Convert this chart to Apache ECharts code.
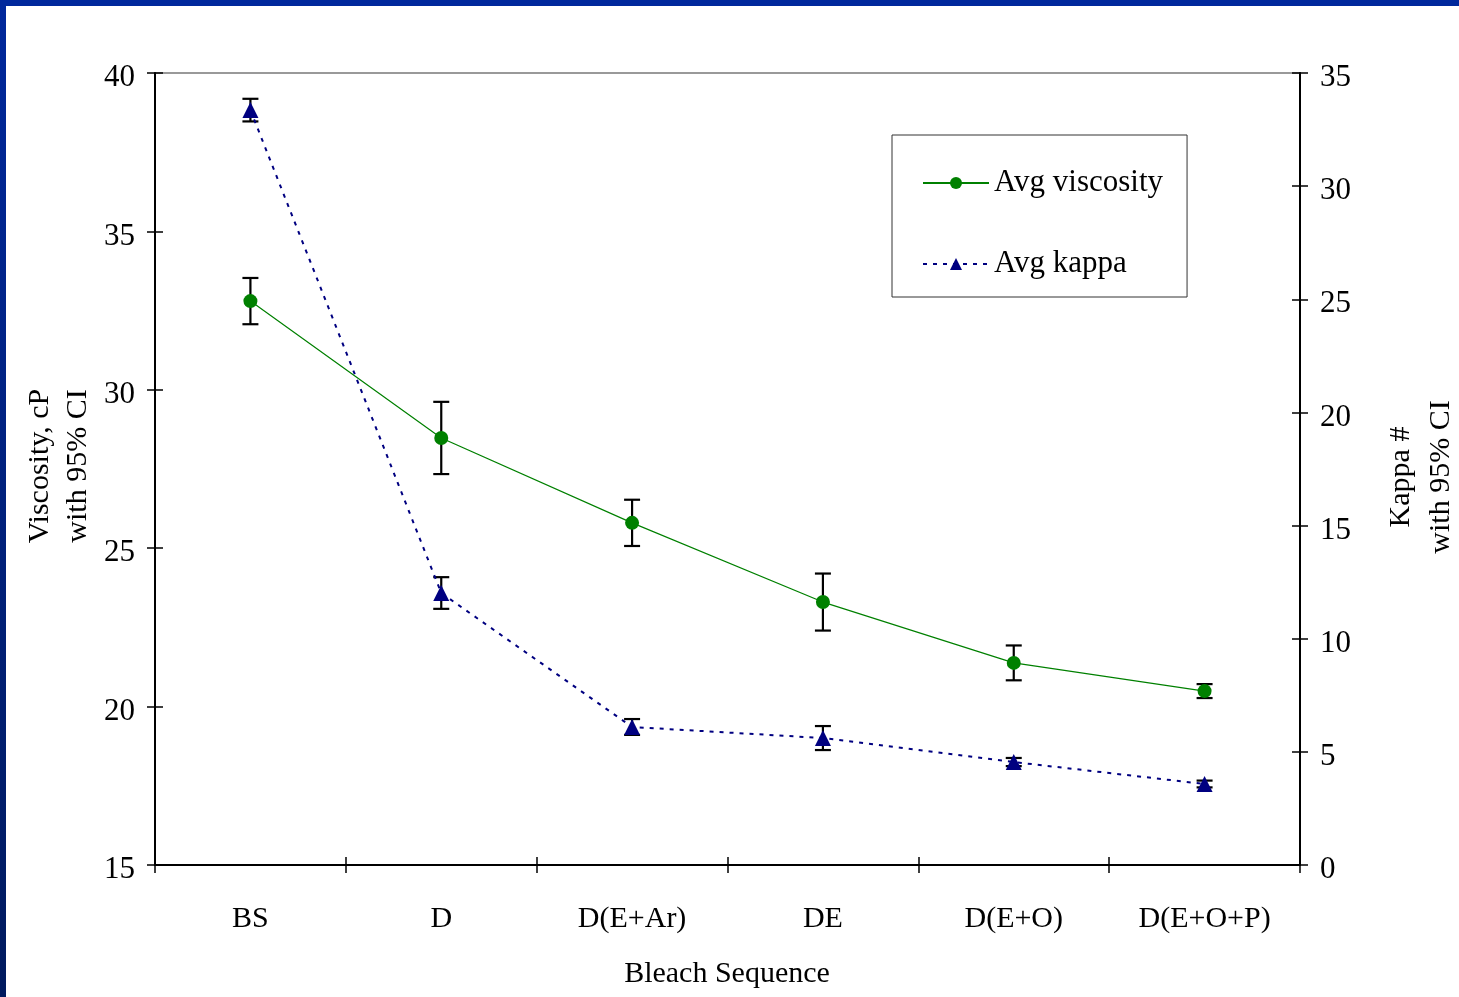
<!DOCTYPE html>
<html>
<head>
<meta charset="utf-8">
<script src="https://cdn.jsdelivr.net/npm/echarts@6/dist/echarts.min.js"></script>
<style>
html,body{margin:0;padding:0;background:#fff;}
#chart{width:1459px;height:997px;}
</style>
</head>
<body>
<div id="chart"></div>
<script>
const categories = ['BS', 'D', 'D(E+Ar)', 'DE', 'D(E+O)', 'D(E+O+P)'];
const viscosity = [32.8, 28.48, 25.8, 23.3, 21.38, 20.49];
const viscosityErr = [0.73, 1.14, 0.73, 0.9, 0.55, 0.22];
const kappa = [33.36, 12.02, 6.1, 5.61, 4.55, 3.58];
const kappaErr = [0.5, 0.7, 0.35, 0.53, 0.18, 0.15];
const leftTicks = {min: 15, max: 40, interval: 5};
const rightTicks = {min: 0, max: 35, interval: 5};

const FONT = '"Liberation Serif", "Times New Roman", serif';

function errData(vals, errs) {
  return vals.map((v, i) => [i, v - errs[i], v + errs[i]]);
}
function errRender(params, api) {
  const x = api.value(0);
  const lo = api.coord([x, api.value(1)]);
  const hi = api.coord([x, api.value(2)]);
  const cap = 8;
  const style = {stroke: '#000', lineWidth: 2.2, fill: null};
  return {
    type: 'group',
    children: [
      {type: 'line', shape: {x1: hi[0], y1: hi[1], x2: lo[0], y2: lo[1]}, style: style},
      {type: 'line', shape: {x1: hi[0] - cap, y1: hi[1], x2: hi[0] + cap, y2: hi[1]}, style: style},
      {type: 'line', shape: {x1: lo[0] - cap, y1: lo[1], x2: lo[0] + cap, y2: lo[1]}, style: style}
    ]
  };
}

const chart = echarts.init(document.getElementById('chart'), null, {renderer: 'canvas'});
const axisLabelStyle = {color: '#000', fontFamily: FONT, fontSize: 31};

chart.setOption({
  backgroundColor: '#fff',
  animation: false,
  grid: {left: 155, right: 159, top: 73, bottom: 132, show: true, borderColor: '#999', borderWidth: 2, backgroundColor: 'transparent'},
  legend: {
    orient: 'vertical',
    left: 892, top: 135,
    padding: [31, 24, 16, 30],
    itemGap: 47,
    itemWidth: 66, itemHeight: 15,
    borderColor: '#333', borderWidth: 1,
    backgroundColor: '#fff',
    textStyle: {color: '#000', fontFamily: FONT, fontSize: 31, lineHeight: 34},
    data: ['Avg viscosity', 'Avg kappa']
  },
  xAxis: [
    {
      type: 'category', data: categories, boundaryGap: true, position: 'bottom',
      axisLine: {onZero: false, lineStyle: {color: '#000', width: 2}},
      axisTick: {show: true, inside: false, length: 8, lineStyle: {color: '#000', width: 1.5}},
      axisLabel: {...axisLabelStyle, fontSize: 30, margin: 39},
      splitLine: {show: false}
    },
    {
      type: 'category', data: categories, boundaryGap: true, position: 'bottom',
      axisLine: {show: false, onZero: false},
      axisTick: {show: true, inside: true, length: 8, lineStyle: {color: '#000', width: 1.5}},
      axisLabel: {show: false},
      splitLine: {show: false}
    }
  ],
  yAxis: [
    {
      type: 'value', position: 'left', min: leftTicks.min, max: leftTicks.max, interval: leftTicks.interval,
      axisLine: {show: true, lineStyle: {color: '#000', width: 2}},
      axisTick: {show: true, inside: false, length: 8, lineStyle: {color: '#000', width: 1.5}},
      axisLabel: {...axisLabelStyle, margin: 20, verticalAlign: 'top', lineHeight: 10},
      splitLine: {show: false}
    },
    {
      type: 'value', position: 'right', min: rightTicks.min, max: rightTicks.max, interval: rightTicks.interval,
      axisLine: {show: true, lineStyle: {color: '#000', width: 2}},
      axisTick: {show: true, inside: false, length: 8, lineStyle: {color: '#000', width: 1.5}},
      axisLabel: {...axisLabelStyle, margin: 20, verticalAlign: 'top', lineHeight: 10},
      splitLine: {show: false}
    },
    {
      type: 'value', position: 'left', min: leftTicks.min, max: leftTicks.max, interval: leftTicks.interval,
      axisLine: {show: false},
      axisTick: {show: true, inside: true, length: 8, lineStyle: {color: '#000', width: 1.5}},
      axisLabel: {show: false},
      splitLine: {show: false}
    },
    {
      type: 'value', position: 'right', min: rightTicks.min, max: rightTicks.max, interval: rightTicks.interval,
      axisLine: {show: false},
      axisTick: {show: true, inside: true, length: 8, lineStyle: {color: '#000', width: 1.5}},
      axisLabel: {show: false},
      splitLine: {show: false}
    }
  ],
  graphic: [
    {type: 'rect', left: 0, top: 0, shape: {width: 1459, height: 6}, style: {fill: '#00289c'}, z: 100},
    {type: 'rect', left: 0, top: 0, shape: {width: 6, height: 997},
      style: {fill: new echarts.graphic.LinearGradient(0, 0, 0, 1, [{offset: 0, color: '#00289c'}, {offset: 1, color: '#001a5e'}])}, z: 100},
    {type: 'text', x: 59, y: 466, rotation: Math.PI / 2, z: 50,
      style: {text: 'Viscosity, cP\nwith 95% CI', fill: '#000', font: '30px ' + FONT, textAlign: 'center', textVerticalAlign: 'middle', lineHeight: 38}},
    {type: 'text', x: 1421, y: 477, rotation: Math.PI / 2, z: 50,
      style: {text: 'Kappa #\nwith 95% CI', fill: '#000', font: '30px ' + FONT, textAlign: 'center', textVerticalAlign: 'middle', lineHeight: 40}},
    {type: 'text', x: 727, y: 974, z: 50,
      style: {text: 'Bleach Sequence', fill: '#000', font: '30px ' + FONT, textAlign: 'center', textVerticalAlign: 'middle'}}
  ],
  series: [
    {
      name: 'Avg viscosity', type: 'line', xAxisIndex: 0, yAxisIndex: 0, data: viscosity, z: 5,
      symbol: 'circle', symbolSize: 14,
      itemStyle: {color: '#008000'},
      lineStyle: {color: '#008000', width: 1.2}
    },
    {
      name: 'Avg kappa', type: 'line', xAxisIndex: 0, yAxisIndex: 1, data: kappa, z: 5,
      symbol: 'triangle', symbolSize: 16,
      itemStyle: {color: '#000080'},
      lineStyle: {color: '#000080', width: 2, type: [4, 6]}
    },
    {
      type: 'custom', xAxisIndex: 0, yAxisIndex: 0, z: 3,
      data: errData(viscosity, viscosityErr), encode: {x: 0, y: [1, 2]}, renderItem: errRender
    },
    {
      type: 'custom', xAxisIndex: 0, yAxisIndex: 1, z: 3,
      data: errData(kappa, kappaErr), encode: {x: 0, y: [1, 2]}, renderItem: errRender
    }
  ]
});
</script>
</body>
</html>
